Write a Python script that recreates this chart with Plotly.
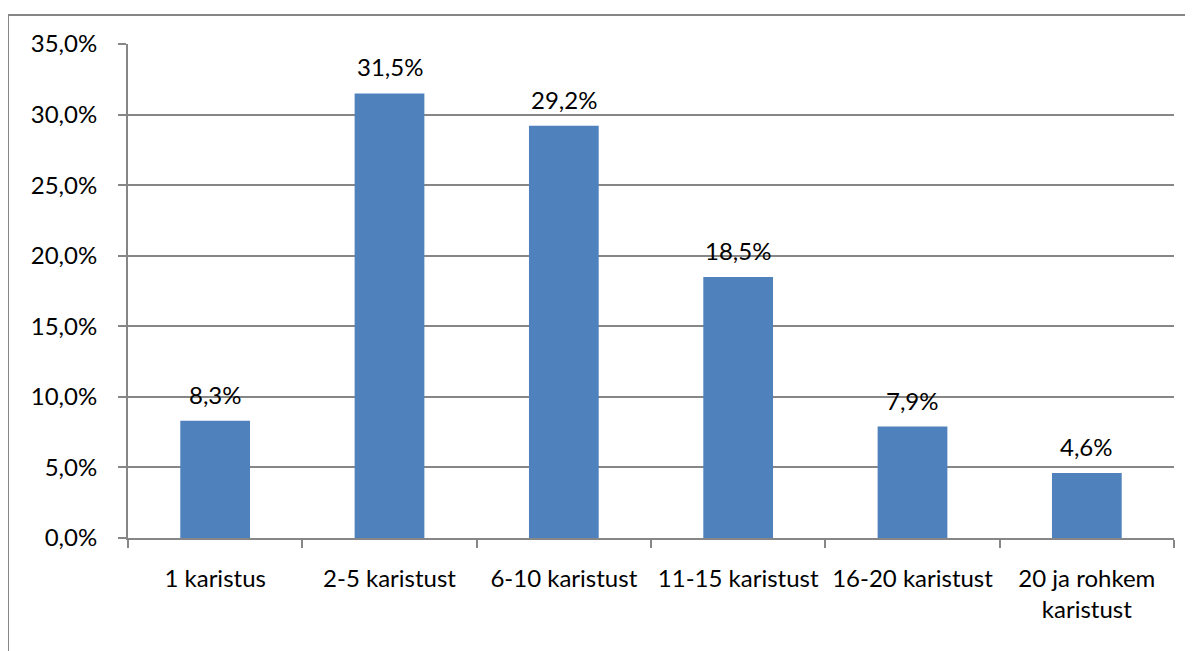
import plotly.graph_objects as go

categories = ["1 karistus", "2-5 karistust", "6-10 karistust", "11-15 karistust",
              "16-20 karistust", "20 ja rohkem<br>karistust"]
values = [0.083, 0.315, 0.292, 0.185, 0.079, 0.046]
y_ticks = [0, 0.05, 0.10, 0.15, 0.20, 0.25, 0.30, 0.35]

# page body has an 8px margin, so figure coordinates are screen - 8
OFF = 8
W, H = 1193, 651
L, T = 128 - OFF, 44 - OFF
R = W - (1174 - OFF)
B = H - (538 - OFF)
pw, ph = W - L - R, H - T - B
FONT = "Lato, Open Sans, sans-serif"
FS = 24

fig = go.Figure(go.Bar(
    x=categories, y=values, width=0.4,
    marker=dict(color="#4F81BD", line=dict(width=0)),
))

annotations = [dict(
    x=c, y=v, xref="x", yref="y", text=f"{v*100:.1f}%".replace(".", ","),
    showarrow=False, yanchor="bottom", yshift=10,
    font=dict(size=FS, color="#000000", family=FONT),
) for c, v in zip(categories, values)]

gray = "#868686"
fig.update_layout(
    width=W, height=H,
    margin=dict(l=L, r=R, t=T, b=B, autoexpand=False),
    paper_bgcolor="white", plot_bgcolor="white",
    separators=", ",
    showlegend=False,
    font=dict(family=FONT, size=FS, color="#000000"),
    bargap=0.6,
    xaxis=dict(
        showline=True, linecolor=gray, linewidth=2,
        ticks="outside", tickson="boundaries", ticklen=8, tickcolor=gray, tickwidth=2,
        showgrid=False, tickfont=dict(size=FS), fixedrange=True,
        automargin=False, ticklabelstandoff=18,
    ),
    yaxis=dict(
        range=[0, 0.35], tickvals=y_ticks, tickformat=".1%",
        showline=True, linecolor=gray, linewidth=2,
        ticks="outside", ticklen=8, tickcolor=gray, tickwidth=2,
        showgrid=True, gridcolor=gray, gridwidth=2,
        zeroline=False, tickfont=dict(size=FS), fixedrange=True,
        automargin=False, ticklabelstandoff=16,
    ),
    annotations=annotations,
    shapes=[dict(
        type="rect", xref="paper", yref="paper",
        x0=(8 - OFF - L) / pw, x1=(W + 20 - L) / pw,
        y0=-(H + 20 - (T + ph)) / ph, y1=1 + (T - (15 - OFF)) / ph,
        line=dict(color=gray, width=2), fillcolor="rgba(0,0,0,0)", layer="below",
    )],
)

fig.write_html("out.html")
